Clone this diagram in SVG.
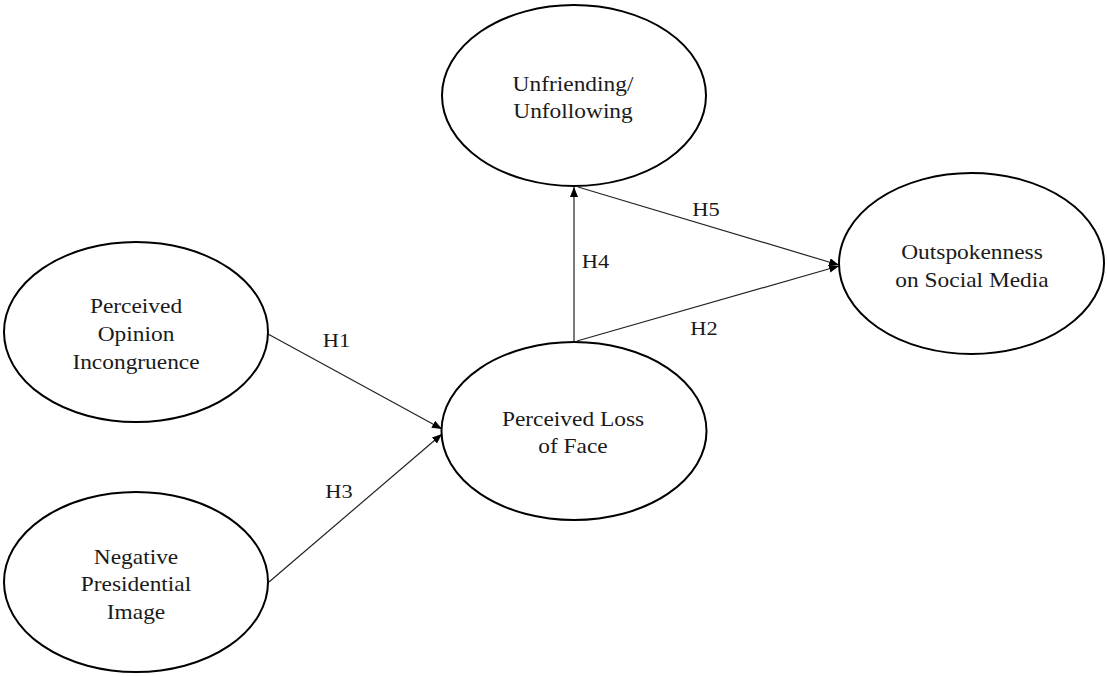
<svg xmlns="http://www.w3.org/2000/svg" width="1107" height="677" viewBox="0 0 1107 677">
<style>
.node{fill:#fff;stroke:#000;stroke-width:2}
.t{font-family:"Liberation Serif","Times New Roman",serif;font-size:20px;fill:#1a1a1a;text-anchor:middle}
.lab{font-family:"Liberation Serif","Times New Roman",serif;font-size:19px;fill:#1a1a1a;text-anchor:middle}
.edge{stroke:#222;stroke-width:1.2;fill:none;marker-end:url(#arr)}
</style>
<defs>
<marker id="arr" markerUnits="userSpaceOnUse" markerWidth="11" markerHeight="9" refX="10" refY="4" orient="auto">
<path d="M0,0 L10,4 L0,8 z" fill="#000"/>
</marker>
</defs>
<rect width="1107" height="677" fill="#fff"/>
<g id="connectors">
<line class="edge" x1="268" y1="334" x2="442" y2="429"/>
<line class="edge" x1="269" y1="582" x2="442" y2="434"/>
<line class="edge" x1="574" y1="342" x2="574" y2="187"/>
<line class="edge" x1="578" y1="187" x2="839" y2="265"/>
<line class="edge" x1="577" y1="341" x2="839" y2="266"/>
<text class="lab" transform="translate(336.5,0) scale(1.18,1)" x="0" y="347">H1</text>
<text class="lab" transform="translate(339,0) scale(1.18,1)" x="0" y="498">H3</text>
<text class="lab" transform="translate(595.5,0) scale(1.18,1)" x="0" y="268">H4</text>
<text class="lab" transform="translate(706,0) scale(1.18,1)" x="0" y="216">H5</text>
<text class="lab" transform="translate(704,0) scale(1.18,1)" x="0" y="335">H2</text>
</g>
<g id="unfriending">
<ellipse class="node" cx="574" cy="95.5" rx="132" ry="90.5"/>
<text class="t" transform="translate(573,0) scale(1.17,1)" x="0" y="91">Unfriending/</text>
<text class="t" transform="translate(573,0) scale(1.17,1)" x="0" y="118">Unfollowing</text>
</g>
<g id="outspokenness">
<ellipse class="node" cx="971.5" cy="263.5" rx="132.5" ry="90.5"/>
<text class="t" transform="translate(972,0) scale(1.17,1)" x="0" y="259">Outspokenness</text>
<text class="t" transform="translate(972,0) scale(1.17,1)" x="0" y="287">on Social Media</text>
</g>
<g id="opinion-incongruence">
<ellipse class="node" cx="136" cy="332" rx="132" ry="90"/>
<text class="t" transform="translate(136,0) scale(1.17,1)" x="0" y="313">Perceived</text>
<text class="t" transform="translate(136,0) scale(1.17,1)" x="0" y="341">Opinion</text>
<text class="t" transform="translate(136,0) scale(1.17,1)" x="0" y="369">Incongruence</text>
</g>
<g id="presidential-image">
<ellipse class="node" cx="136" cy="582" rx="132" ry="90"/>
<text class="t" transform="translate(136,0) scale(1.17,1)" x="0" y="564">Negative</text>
<text class="t" transform="translate(136,0) scale(1.17,1)" x="0" y="591">Presidential</text>
<text class="t" transform="translate(136,0) scale(1.17,1)" x="0" y="619">Image</text>
</g>
<g id="loss-of-face">
<ellipse class="node" cx="574" cy="431" rx="132.5" ry="89"/>
<text class="t" transform="translate(573,0) scale(1.17,1)" x="0" y="426">Perceived Loss</text>
<text class="t" transform="translate(573,0) scale(1.17,1)" x="0" y="453">of Face</text>
</g>
</svg>
